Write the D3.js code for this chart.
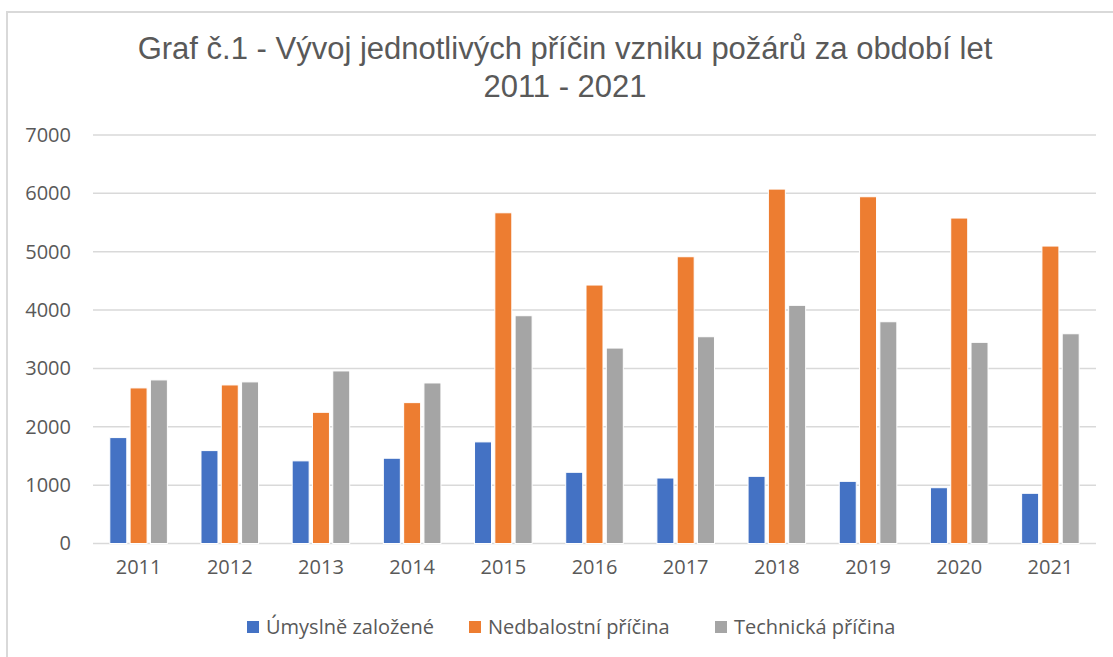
<!DOCTYPE html>
<html>
<head>
<meta charset="utf-8">
<script src="https://cdn.jsdelivr.net/npm/d3@7"></script>
<style>
  html, body { margin: 0; padding: 0; background: #fff; }
  svg { display: block; }
</style>
</head>
<body>
<svg id="chart" width="1113" height="657"></svg>
<script>
const years = ["2011","2012","2013","2014","2015","2016","2017","2018","2019","2020","2021"];
const seriesNames = ["Úmyslně založené", "Nedbalostní příčina", "Technická příčina"];
const umyslne    = [1815, 1592, 1416, 1461, 1741, 1220, 1122, 1151, 1065, 956, 860];
const nedbalost  = [2666, 2717, 2248, 2414, 5667, 4429, 4914, 6073, 5942, 5577, 5097];
const technicka  = [2803, 2769, 2957, 2751, 3903, 3349, 3543, 4081, 3800, 3447, 3594];
const yTicks = [0, 1000, 2000, 3000, 4000, 5000, 6000, 7000];
const colors = ["#4472C4", "#ED7D31", "#A5A5A5"];
const titleLines = ["Graf č.1 - Vývoj jednotlivých příčin vzniku požárů za období let", "2011 - 2021"];

const seriesValues = [umyslne, nedbalost, technicka];
const data = years.map((y, i) => ({ year: y, values: seriesValues.map(s => s[i]) }));

const svg = d3.select("#chart");
const W = 1113, H = 657;
const plot = { left: 93, right: 1096, top: 135, bottom: 543.5 };

// chart border
svg.append("rect")
  .attr("x", 7).attr("y", 12)
  .attr("width", W + 20).attr("height", H + 20)
  .attr("fill", "#fff").attr("stroke", "#d9d9d9").attr("stroke-width", 2);

// title
const title = svg.append("text")
  .attr("text-anchor", "middle")
  .attr("font-family", "'Liberation Sans', Arial, sans-serif")
  .attr("font-size", 31)
  .attr("fill", "#595959");
titleLines.forEach((t, i) => {
  title.append("tspan").attr("x", 565).attr("y", 59 + i * 38).text(t);
});

const x = d3.scaleBand().domain(years).range([plot.left, plot.right]).paddingInner(0).paddingOuter(0);
const bw = x.bandwidth();
const x1 = d3.scaleBand().domain(d3.range(seriesNames.length)).range([16.8, bw - 16.8]).paddingInner(0.163);
const y = d3.scaleLinear().domain([0, 7000]).range([plot.bottom, plot.top]);

// gridlines
svg.append("g")
  .selectAll("line").data(yTicks).join("line")
  .attr("x1", plot.left).attr("x2", plot.right)
  .attr("y1", d => y(d)).attr("y2", d => y(d))
  .attr("stroke", "#d9d9d9").attr("stroke-width", 1.5);

// y axis labels
const yAxis = d3.axisLeft(y).tickValues(yTicks).tickSize(0).tickPadding(22).tickFormat(d3.format("d"));
const gy = svg.append("g").attr("transform", `translate(${plot.left},0)`).call(yAxis);
gy.select(".domain").remove();
gy.selectAll("text")
  .attr("font-family", "'Open Sans', sans-serif").attr("font-size", 20).attr("fill", "#595959");

// x axis labels
const xAxis = d3.axisBottom(x).tickSize(0).tickPadding(16);
const gx = svg.append("g").attr("transform", `translate(0,${plot.bottom})`).call(xAxis);
gx.select(".domain").remove();
gx.selectAll("text")
  .attr("font-family", "'Open Sans', sans-serif").attr("font-size", 20).attr("fill", "#595959");

// bars
const groups = svg.append("g").selectAll("g").data(data).join("g")
  .attr("transform", d => `translate(${x(d.year)},0)`);
groups.selectAll("rect").data(d => d.values.map((v, i) => ({ v, i }))).join("rect")
  .attr("x", d => x1(d.i))
  .attr("width", x1.bandwidth())
  .attr("y", d => y(d.v))
  .attr("height", d => y(0) - y(d.v))
  .attr("fill", d => colors[d.i])
  .attr("stroke", "#fff").attr("stroke-width", 1);

// legend
const legendX = [247, 469, 715];
const lg = svg.append("g").selectAll("g").data(seriesNames).join("g")
  .attr("transform", (d, i) => `translate(${legendX[i]},627)`);
lg.append("rect").attr("x", 0).attr("y", -6).attr("width", 12).attr("height", 12)
  .attr("fill", (d, i) => colors[i]);
lg.append("text").attr("x", 19).attr("y", 7)
  .attr("font-family", "'Open Sans', sans-serif").attr("font-size", 20).attr("fill", "#595959")
  .text(d => d);
</script>
</body>
</html>
